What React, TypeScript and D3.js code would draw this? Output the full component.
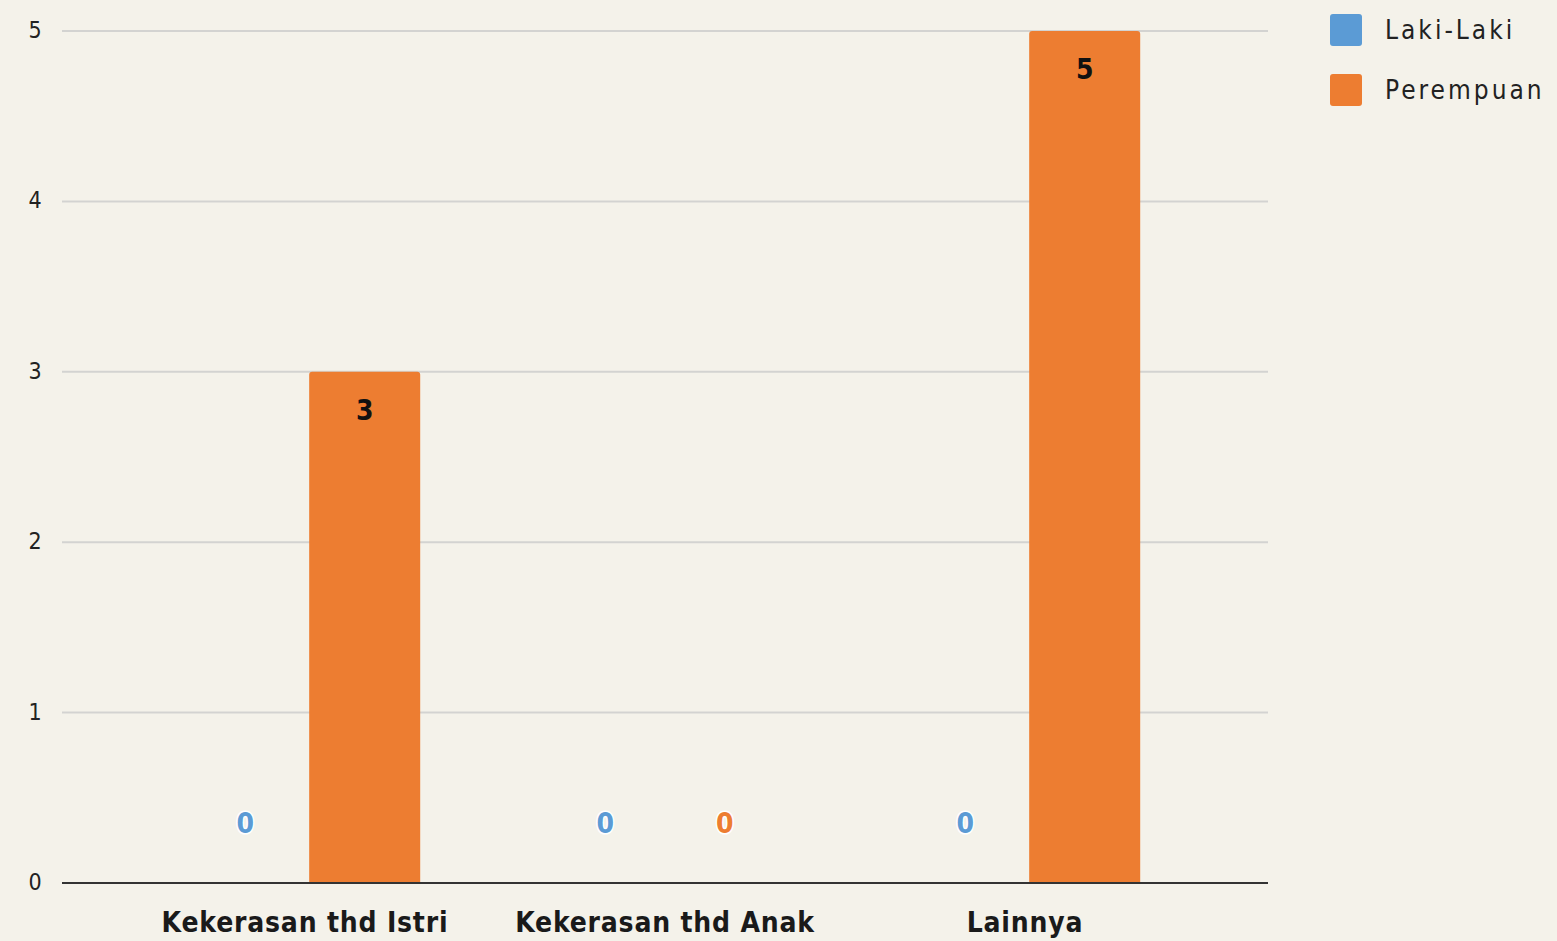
import React, { useRef, useEffect } from 'react';
import * as d3 from 'd3';

const categories = ['Kekerasan thd Istri', 'Kekerasan thd Anak', 'Lainnya'];
const seriesNames = ['Laki-Laki', 'Perempuan'];
const lakiLaki = [0, 0, 0];
const perempuan = [3, 0, 5];
const yTicks = [0, 1, 2, 3, 4, 5];
const colors = ['#5b9bd5', '#ed7d31'];

const W = 1557;
const H = 941;
const FONT = '"DejaVu Sans Condensed", "DejaVu Sans", sans-serif';

const App = () => {
  const svgRef = useRef<SVGSVGElement>(null);

  useEffect(() => {
    const svg = d3.select(svgRef.current);
    svg.selectAll('*').remove();

    const values = [lakiLaki, perempuan];

    const x0 = d3.scaleBand().domain(categories).range([125, 1205]).paddingInner(0.36).paddingOuter(0.18);
    const x1 = d3.scaleBand().domain(seriesNames).range([0, x0.bandwidth()]).paddingInner(0.07);
    const y = d3.scaleLinear().domain([0, 5]).range([883, 31]);

    svg.append('rect').attr('width', W).attr('height', H).attr('fill', '#f4f2ea');

    // grid
    const grid = svg.append('g');
    grid.selectAll('line')
      .data(yTicks.filter((t) => t > 0))
      .join('line')
      .attr('x1', 62)
      .attr('x2', 1268)
      .attr('y1', (d) => y(d))
      .attr('y2', (d) => y(d))
      .attr('stroke', '#d3d3d1')
      .attr('stroke-width', 2);

    // y labels
    svg.append('g').selectAll('text')
      .data(yTicks)
      .join('text')
      .attr('x', 35)
      .attr('y', (d) => y(d))
      .attr('dy', '0.3em')
      .attr('text-anchor', 'middle')
      .attr('font-family', FONT)
      .attr('font-size', 23)
      .attr('fill', '#222')
      .text((d) => d);

    // bars
    const rr = 3;
    seriesNames.forEach((s, si) => {
      const g = svg.append('g');
      categories.forEach((c, ci) => {
        const v = values[si][ci];
        const bx = (x0(c) ?? 0) + (x1(s) ?? 0);
        const bw = x1.bandwidth();
        const top = y(v);
        const bottom = y(0);
        if (v > 0) {
          const p = d3.path();
          p.moveTo(bx, bottom);
          p.lineTo(bx, top + rr);
          p.quadraticCurveTo(bx, top, bx + rr, top);
          p.lineTo(bx + bw - rr, top);
          p.quadraticCurveTo(bx + bw, top, bx + bw, top + rr);
          p.lineTo(bx + bw, bottom);
          p.closePath();
          g.append('path').attr('d', p.toString()).attr('fill', colors[si]);
          g.append('text')
            .attr('x', bx + bw / 2)
            .attr('y', top + 48)
            .attr('text-anchor', 'middle')
            .attr('font-family', FONT)
            .attr('font-weight', 'bold')
            .attr('font-size', 28)
            .attr('fill', '#111')
            .text(v);
        } else {
          g.append('text')
            .attr('x', bx + bw / 2)
            .attr('y', bottom - 50)
            .attr('text-anchor', 'middle')
            .attr('font-family', FONT)
            .attr('font-weight', 'bold')
            .attr('font-size', 28)
            .attr('fill', colors[si])
            .attr('stroke', '#ffffff')
            .attr('stroke-width', 3)
            .attr('paint-order', 'stroke')
            .text(v);
        }
      });
    });

    // baseline
    svg.append('line')
      .attr('x1', 62)
      .attr('x2', 1268)
      .attr('y1', y(0))
      .attr('y2', y(0))
      .attr('stroke', '#333')
      .attr('stroke-width', 2);

    // x labels
    svg.append('g').selectAll('text')
      .data(categories)
      .join('text')
      .attr('x', (d) => (x0(d) ?? 0) + x0.bandwidth() / 2)
      .attr('y', 932)
      .attr('text-anchor', 'middle')
      .attr('font-family', FONT)
      .attr('font-weight', 'bold')
      .attr('font-size', 28)
      .attr('letter-spacing', 0.8)
      .attr('fill', '#1a1a1a')
      .text((d) => d);

    // legend
    const legend = svg.append('g');
    seriesNames.forEach((s, i) => {
      const ly = 14 + i * 60;
      legend.append('rect')
        .attr('x', 1330)
        .attr('y', ly)
        .attr('width', 32)
        .attr('height', 32)
        .attr('rx', 3)
        .attr('fill', colors[i]);
      legend.append('text')
        .attr('x', 1385)
        .attr('y', ly + 16)
        .attr('dy', '0.33em')
        .attr('font-family', FONT)
        .attr('font-size', 26)
        .attr('letter-spacing', 3)
        .attr('fill', '#222')
        .text(s);
    });
  }, []);

  return (
    <div style={{ position: 'absolute', left: 0, top: 0 }}>
      <svg ref={svgRef} width={W} height={H} style={{ display: 'block' }} />
    </div>
  );
};

export default App;
